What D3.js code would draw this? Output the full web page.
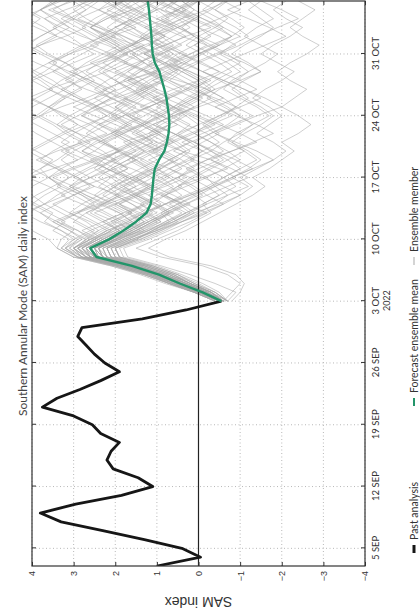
<!DOCTYPE html>
<html>
<head>
<meta charset="utf-8">
<script src="https://cdn.jsdelivr.net/npm/d3@7"></script>
<style>
  body { margin: 0; background: #fff; }
  svg { display: block; }
</style>
</head>
<body>
<svg width="420" height="616"></svg>
<script>
// past analysis, one value a day from 3 SEP 2022
const pastStart = '2022-09-03'
const pastValues = [1.0, -0.05, 0.4, 1.3, 2.3, 3.3, 3.8, 2.95, 1.85, 1.1, 1.45, 2.05, 2.2, 2.1, 1.9,
  2.35, 2.55, 3.0, 3.75, 3.4, 2.85, 2.35, 1.9, 2.25, 2.5, 2.7, 2.9, 2.8, 1.35, 0.3, -0.55]

// forecast, one value a day from 3 OCT 2022
const forecastStart = '2022-10-03'
const meanValues = [-0.55, -0.1, 0.45, 0.95, 1.6, 2.45, 2.6, 2.15, 1.8, 1.5, 1.25, 1.15, 1.12, 1.1,
  1.08, 1.05, 0.95, 0.82, 0.76, 0.72, 0.7, 0.71, 0.74, 0.77, 0.82, 0.88, 0.94, 1.05, 1.1, 1.12,
  1.13, 1.15, 1.17, 1.19, 1.22]

const members = [
  [-0.5, -0.1, 0.5, 1.0, 1.7, 2.6, 2.9, 2.5, 2.2, 1.6, 1.9, 2.4, 2.0, 1.5, 1.1, 1.6, 2.2, 2.8, 2.4, 1.9, 1.3, 0.8, 1.2, 1.8, 2.3, 1.7, 1.0, 0.4, 0.9, 1.5, 2.1, 2.6, 2.2, 1.6, 1.9],
  [-0.6, -0.3, 0.2, 0.7, 1.3, 2.1, 2.2, 1.6, 1.0, 0.4, -0.2, 0.3, 0.9, 0.5, -0.1, -0.7, -0.3, 0.4, 1.0, 1.5, 1.1, 0.6, 0.0, -0.6, -0.2, 0.5, 1.2, 1.8, 1.4, 0.8, 0.3, -0.3, 0.2, 0.9, 1.3],
  [-0.5, 0.0, 0.7, 1.3, 2.0, 2.9, 3.2, 2.8, 3.1, 3.5, 3.0, 2.4, 2.8, 3.3, 3.6, 3.1, 2.5, 1.9, 2.3, 2.9, 3.4, 3.8, 3.3, 2.7, 2.2, 2.6, 3.1, 2.5, 1.8, 1.3, 1.8, 2.4, 3.0, 3.5, 3.1],
  [-0.6, -0.2, 0.3, 0.8, 1.4, 2.2, 2.3, 1.8, 1.4, 0.9, 1.3, 0.8, 0.2, -0.4, -0.9, -0.5, 0.1, 0.6, 0.2, -0.3, -0.8, -1.3, -0.9, -0.4, 0.2, 0.7, 1.1, 0.6, 0.0, -0.5, -1.0, -0.6, -0.1, 0.4, 0.0],
  [-0.5, 0.1, 0.6, 1.1, 1.8, 2.7, 3.0, 2.6, 2.0, 1.5, 1.0, 1.4, 1.9, 2.5, 3.0, 2.6, 2.0, 1.5, 1.8, 1.2, 0.7, 1.1, 1.6, 2.1, 2.7, 3.2, 2.8, 2.3, 1.7, 2.2, 2.8, 3.3, 3.7, 3.2, 2.6],
  [-0.7, -0.3, 0.2, 0.6, 1.2, 2.0, 2.1, 1.5, 1.1, 0.6, 0.1, -0.5, -1.0, -0.6, -0.1, 0.3, -0.2, -0.8, -1.4, -1.0, -0.5, 0.0, 0.5, 0.1, -0.4, -1.0, -1.5, -1.1, -0.6, -0.2, 0.4, 0.9, 0.4, -0.2, -0.7],
  [-0.5, -0.1, 0.4, 0.9, 1.6, 2.4, 2.6, 2.3, 1.9, 2.3, 2.7, 2.2, 1.6, 1.1, 1.5, 1.0, 0.5, 0.9, 1.4, 1.9, 2.4, 1.8, 1.2, 0.7, 1.2, 1.7, 1.1, 0.5, 1.0, 1.6, 1.1, 0.5, 0.0, 0.5, 1.0],
  [-0.4, 0.1, 0.7, 1.2, 1.9, 2.8, 3.1, 2.9, 3.3, 3.8, 4.2, 3.7, 3.2, 3.6, 4.1, 3.5, 2.9, 3.3, 2.8, 2.2, 2.6, 3.1, 3.6, 4.1, 3.6, 3.0, 3.4, 3.9, 4.3, 3.8, 3.2, 2.7, 3.1, 3.6, 3.0],
  [-0.6, -0.2, 0.4, 0.9, 1.5, 2.3, 2.4, 1.9, 1.5, 1.0, 1.4, 1.9, 1.4, 0.8, 0.3, 0.7, 1.2, 0.7, 0.2, 0.6, 1.1, 1.6, 1.2, 0.7, 0.2, -0.3, 0.2, 0.8, 1.3, 0.8, 0.3, 0.7, 1.3, 1.8, 1.4],
  [-0.5, -0.1, 0.5, 1.0, 1.6, 2.5, 2.7, 2.2, 1.7, 1.2, 0.7, 0.2, 0.6, 1.1, 1.6, 2.1, 1.7, 1.2, 0.6, 0.1, -0.4, 0.1, 0.6, 1.1, 0.6, 0.0, -0.5, -0.1, 0.4, 0.9, 1.5, 2.0, 1.5, 1.0, 0.5],
  [-0.6, -0.1, 0.4, 1.0, 1.7, 2.5, 2.8, 2.4, 2.8, 2.3, 1.8, 2.2, 2.7, 3.1, 2.6, 2.0, 1.5, 1.9, 2.4, 2.0, 1.4, 0.9, 1.3, 1.8, 1.3, 0.8, 1.2, 1.7, 2.2, 1.7, 1.2, 1.6, 2.1, 1.6, 1.1],
  [-0.5, 0.0, 0.5, 1.0, 1.6, 2.4, 2.5, 2.0, 1.3, 0.7, 0.3, -0.2, -0.7, -1.2, -0.8, -1.3, -1.8, -1.4, -0.9, -0.4, -0.9, -1.4, -2.0, -1.6, -1.1, -0.6, -0.1, -0.6, -1.1, -1.6, -2.1, -1.7, -1.2, -0.7, -1.2],
  [-0.5, -0.1, 0.5, 1.1, 1.8, 2.7, 2.9, 2.4, 1.9, 2.3, 1.8, 1.3, 0.8, 1.2, 1.7, 2.2, 2.7, 3.2, 2.7, 2.1, 1.6, 2.0, 2.5, 2.0, 1.4, 0.9, 1.3, 1.8, 2.3, 2.8, 2.3, 1.7, 1.2, 1.6, 2.1],
  [-0.6, -0.2, 0.3, 0.8, 1.4, 2.2, 2.4, 1.9, 1.4, 1.8, 1.3, 0.8, 0.3, -0.2, 0.2, 0.7, 0.2, -0.3, 0.1, 0.6, 1.1, 0.6, 0.1, 0.5, 1.0, 1.5, 2.0, 1.5, 0.9, 0.4, 0.8, 1.3, 0.8, 0.3, 0.7],
  [-0.5, 0.0, 0.6, 1.1, 1.7, 2.6, 2.8, 2.5, 2.9, 3.4, 2.9, 2.3, 1.8, 1.3, 1.7, 2.2, 2.6, 2.1, 1.6, 1.0, 1.4, 1.9, 2.4, 2.9, 3.3, 2.8, 2.2, 1.7, 2.1, 2.6, 2.1, 1.5, 1.9, 2.4, 2.9],
  [-0.6, -0.2, 0.3, 0.8, 1.5, 2.3, 2.4, 2.0, 1.5, 1.1, 0.6, 1.0, 1.5, 1.0, 0.5, 0.0, -0.5, -0.1, 0.4, -0.1, -0.6, -0.2, 0.3, 0.8, 0.3, -0.2, 0.2, 0.7, 0.2, -0.3, -0.8, -0.4, 0.1, 0.6, 0.2],
  [-0.5, 0.0, 0.6, 1.2, 1.9, 2.8, 3.0, 2.7, 2.3, 1.9, 2.3, 2.8, 3.3, 2.8, 2.2, 1.7, 2.1, 1.6, 1.1, 1.5, 2.0, 2.5, 3.0, 2.5, 1.9, 1.4, 0.9, 1.3, 1.8, 1.3, 0.8, 1.2, 1.7, 2.2, 1.8],
  [-0.6, -0.3, 0.2, 0.7, 1.3, 2.1, 2.2, 1.7, 1.2, 0.8, 0.3, 0.7, 0.2, -0.3, -0.8, -1.3, -0.9, -0.4, 0.1, 0.5, 0.0, -0.5, -1.0, -1.5, -1.1, -0.6, -0.1, 0.4, 0.0, -0.5, 0.0, 0.5, 1.0, 0.5, 0.0],
  [-0.5, -0.1, 0.5, 1.0, 1.7, 2.6, 2.7, 2.3, 1.8, 1.3, 1.7, 1.2, 1.6, 2.1, 1.6, 1.1, 1.5, 2.0, 1.5, 1.0, 0.5, 0.9, 1.4, 0.9, 0.4, 0.8, 1.3, 0.8, 0.3, 0.7, 1.2, 0.7, 0.2, 0.6, 1.1],
  [-0.4, 0.1, 0.7, 1.3, 2.0, 2.9, 3.3, 3.0, 2.6, 2.1, 1.6, 2.0, 2.5, 3.0, 3.5, 3.0, 2.4, 1.9, 1.4, 1.8, 2.3, 2.8, 2.3, 1.7, 2.1, 2.6, 3.1, 3.6, 3.1, 2.5, 2.0, 2.4, 2.9, 2.4, 1.8],
  [-0.6, -0.2, 0.3, 0.9, 1.5, 2.3, 2.5, 2.1, 1.6, 1.2, 0.8, 0.4, 0.8, 0.3, -0.2, 0.2, 0.7, 1.2, 0.7, 0.2, -0.3, -0.8, -0.4, 0.1, 0.6, 1.1, 0.6, 0.1, -0.4, -0.9, -0.5, 0.0, -0.5, -1.0, -0.6],
  [-0.5, -0.1, 0.4, 0.9, 1.6, 2.5, 2.6, 2.1, 1.6, 2.0, 2.5, 2.0, 1.5, 1.9, 1.4, 0.9, 1.3, 1.8, 2.3, 1.8, 1.3, 1.7, 1.2, 0.7, 1.1, 1.6, 2.1, 2.6, 2.1, 1.6, 1.1, 0.6, 1.0, 1.5, 2.0],
  [-0.7, -0.3, 0.1, 0.6, 1.2, 1.9, 2.0, 1.4, 0.9, 0.4, -0.1, -0.6, -0.2, -0.7, -1.2, -0.8, -0.3, -0.8, -1.3, -1.8, -1.4, -0.9, -0.4, -0.9, -1.4, -1.0, -0.5, 0.0, -0.5, -1.0, -1.4, -1.9, -2.4, -2.0, -1.5],
  [-0.5, 0.0, 0.6, 1.1, 1.8, 2.7, 3.0, 2.6, 2.2, 2.6, 3.1, 3.5, 3.0, 2.5, 2.9, 3.4, 3.9, 3.4, 2.8, 3.2, 2.7, 2.2, 2.6, 3.1, 3.6, 4.0, 3.5, 3.0, 2.5, 2.9, 3.4, 3.9, 4.3, 3.8, 3.3],
  [-0.5, 0.0, 0.6, 1.2, 1.9, 2.8, 3.2, 3.0, 3.3, 3.7, 3.5, 3.9, 4.3, 4.0, 3.6, 3.8, 3.4, 3.1, 3.5, 3.9, 4.2, 3.8, 3.5, 3.2, 3.6, 3.3, 2.9, 3.2, 3.7, 4.1, 3.8, 3.4, 3.0, 3.3, 3.6],
  [-0.6, -0.2, 0.3, 0.9, 1.5, 2.3, 2.4, 2.0, 1.7, 1.9, 1.4, 1.1, 1.5, 1.8, 1.3, 0.9, 0.6, 1.0, 1.4, 1.1, 0.7, 0.4, 0.8, 1.3, 1.7, 1.4, 1.0, 1.3, 1.6, 1.2, 0.8, 1.1, 1.5, 1.9, 1.6],
  [-0.6, -0.8, -1.0, -0.7, -0.1, 0.9, 1.5, 1.0, 0.5, 0.1, -0.3, -0.1, -0.5, -0.9, -0.6, -1.0, -1.4, -1.1, -0.7, -0.9, -1.3, -1.7, -1.4, -1.0, -0.6, -0.8, -1.2, -1.6, -1.9, -1.5, -1.1, -1.4, -1.8, -1.5, -1.2],
  [-0.5, -0.1, 0.5, 1.0, 1.7, 2.6, 2.8, 2.4, 2.1, 2.5, 2.9, 2.6, 2.2, 1.8, 2.1, 2.5, 2.3, 1.9, 1.6, 2.0, 2.4, 2.8, 2.5, 2.1, 1.7, 2.0, 2.3, 1.9, 1.5, 1.8, 2.2, 2.6, 2.3, 1.9, 2.2],
  [-0.5, -0.2, 0.4, 0.8, 1.5, 2.4, 2.5, 1.9, 1.4, 1.0, 0.7, 1.1, 0.8, 0.4, 0.7, 1.2, 1.6, 1.3, 0.9, 0.5, 0.2, 0.6, 1.0, 0.7, 0.3, 0.0, 0.4, 0.9, 1.3, 1.0, 0.6, 0.2, 0.5, 0.9, 0.6],
  [-0.4, 0.1, 0.8, 1.4, 2.1, 3.0, 3.4, 3.6, 4.0, 4.4, 4.1, 3.7, 4.0, 4.5, 4.2, 3.8, 3.5, 3.9, 4.3, 4.6, 4.2, 3.9, 3.6, 4.0, 4.4, 4.1, 3.7, 3.4, 3.8, 4.2, 4.5, 4.1, 3.8, 4.2, 4.4],
  [-0.6, -0.3, 0.2, 0.7, 1.3, 2.1, 2.2, 1.8, 1.2, 0.6, 0.2, 0.5, 0.1, -0.3, -0.6, -0.2, 0.2, -0.1, -0.5, -0.2, 0.3, 0.7, 0.4, 0.0, -0.4, -0.1, 0.3, 0.6, 0.2, -0.2, 0.1, 0.5, 0.9, 0.5, 0.2],
  [-0.5, 0.0, 0.5, 1.1, 1.8, 2.7, 2.9, 2.6, 2.2, 1.7, 1.3, 1.6, 2.0, 2.4, 2.1, 1.7, 2.0, 2.5, 2.9, 2.6, 2.2, 1.8, 1.5, 1.9, 2.3, 2.7, 3.0, 2.7, 2.3, 1.9, 2.2, 2.6, 2.2, 1.8, 2.1],
  [-0.7, -0.4, 0.1, 0.5, 1.1, 1.9, 2.0, 1.5, 1.1, 0.7, 0.9, 0.5, 0.0, -0.4, -0.2, -0.6, -1.0, -0.7, -0.3, 0.1, -0.2, -0.6, -0.9, -0.6, -0.2, 0.2, 0.6, 0.3, -0.1, -0.5, -0.8, -0.5, -0.1, 0.3, 0.0],
  [-0.5, -0.1, 0.5, 1.0, 1.6, 2.5, 2.7, 2.3, 2.6, 3.0, 2.7, 2.3, 1.9, 2.2, 2.6, 3.0, 3.3, 3.0, 2.6, 2.9, 3.3, 2.9, 2.5, 2.1, 2.4, 2.8, 3.2, 3.5, 3.1, 2.7, 2.3, 2.6, 3.0, 2.7, 2.4],
  [-0.6, -0.2, 0.4, 0.9, 1.5, 2.3, 2.5, 2.0, 1.6, 1.2, 1.5, 1.9, 1.5, 1.1, 0.7, 1.0, 1.4, 1.0, 0.6, 0.9, 1.3, 1.7, 2.0, 1.6, 1.2, 0.8, 0.5, 0.8, 1.2, 1.6, 1.3, 0.9, 1.2, 1.5, 1.1],
  [-0.7, -0.9, -0.4, 0.2, 0.9, 1.7, 1.8, 1.2, 0.7, 0.2, -0.2, -0.6, -1.0, -1.3, -1.0, -1.4, -1.8, -2.1, -1.8, -1.4, -1.7, -2.0, -1.7, -1.3, -1.6, -2.0, -2.3, -1.9, -1.5, -1.8, -2.2, -2.5, -2.1, -1.8, -2.1],
  [-0.5, 0.0, 0.6, 1.1, 1.8, 2.6, 2.8, 2.5, 2.1, 1.8, 2.2, 2.6, 3.0, 3.4, 3.1, 2.7, 2.3, 1.9, 2.2, 1.8, 1.4, 1.7, 2.1, 2.5, 2.2, 1.8, 1.4, 1.1, 1.5, 1.9, 2.3, 2.0, 1.6, 1.9, 2.3],
  [-0.6, -0.2, 0.3, 0.8, 1.4, 2.2, 2.3, 1.8, 1.3, 1.6, 1.2, 0.8, 0.4, 0.7, 1.1, 0.7, 0.3, -0.1, 0.2, 0.6, 1.0, 0.7, 0.3, -0.1, 0.3, 0.7, 0.4, 0.0, 0.4, 0.8, 1.1, 0.8, 0.4, 0.1, 0.4],
  [-0.5, -0.1, 0.5, 1.0, 1.7, 2.6, 2.9, 2.7, 3.1, 3.5, 3.8, 3.4, 3.0, 2.6, 2.9, 3.3, 3.7, 4.1, 3.7, 3.3, 2.9, 3.2, 3.6, 3.3, 2.9, 2.5, 2.8, 3.2, 3.6, 3.9, 3.5, 3.1, 3.4, 3.8, 3.5],
  [-0.6, -0.3, 0.2, 0.6, 1.2, 2.0, 2.1, 1.6, 1.0, 0.5, 0.8, 0.3, -0.2, 0.1, 0.5, 0.2, -0.2, -0.6, -0.3, 0.1, 0.5, 0.9, 0.6, 0.2, -0.2, -0.6, -1.0, -0.7, -0.3, 0.1, -0.2, -0.6, -0.3, 0.1, 0.4],
  [-0.5, 0.0, 0.6, 1.2, 1.9, 2.8, 3.0, 2.7, 2.4, 2.0, 1.6, 1.9, 2.3, 2.0, 1.6, 1.2, 1.5, 1.9, 2.3, 2.7, 2.4, 2.0, 1.6, 1.3, 1.6, 2.0, 2.4, 2.1, 1.7, 2.0, 2.4, 2.8, 2.5, 2.1, 1.8],
  [-0.6, -0.2, 0.3, 0.8, 1.5, 2.4, 2.6, 2.1, 1.7, 1.3, 0.9, 0.5, 0.9, 1.3, 0.9, 0.5, 0.1, 0.4, 0.8, 1.2, 0.9, 0.5, 0.1, -0.3, 0.0, 0.4, 0.8, 1.2, 0.9, 0.5, 0.1, 0.4, 0.8, 0.5, 0.1],
  [-0.8, -1.0, -1.1, -0.9, -0.3, 0.7, 1.2, 0.8, 0.3, -0.1, -0.5, -0.9, -1.3, -1.6, -1.3, -1.7, -2.0, -2.3, -2.0, -2.4, -2.7, -2.4, -2.0, -2.3, -2.6, -2.2, -1.9, -2.2, -2.6, -2.9, -2.5, -2.2, -2.5, -2.8, -2.4],
  [-0.5, -0.1, 0.5, 1.0, 1.7, 2.5, 2.7, 2.3, 1.9, 2.2, 2.6, 2.3, 1.9, 1.5, 1.8, 2.2, 1.9, 1.5, 1.1, 1.4, 1.8, 2.2, 1.9, 1.5, 1.2, 1.5, 1.9, 2.3, 2.0, 1.6, 1.3, 1.6, 2.0, 2.4, 2.1],
  [-0.6, -0.3, 0.3, 0.7, 1.3, 2.2, 2.3, 1.7, 1.3, 0.9, 1.2, 1.6, 2.0, 1.7, 1.3, 0.9, 0.5, 0.2, 0.5, 0.9, 1.3, 1.0, 0.6, 0.9, 1.3, 1.7, 1.4, 1.0, 0.6, 0.9, 1.3, 1.0, 0.6, 0.3, 0.7],
  [-0.4, 0.1, 0.7, 1.3, 2.0, 2.9, 3.2, 2.9, 2.5, 2.9, 3.3, 3.7, 3.4, 3.0, 2.6, 2.2, 2.5, 2.9, 3.3, 3.0, 2.6, 2.2, 2.5, 2.9, 3.3, 3.7, 4.0, 3.6, 3.2, 2.8, 3.1, 3.5, 3.1, 2.7, 3.0],
  [-0.6, -0.2, 0.4, 0.9, 1.5, 2.3, 2.4, 1.9, 1.5, 1.1, 0.7, 0.3, -0.1, 0.2, 0.6, 1.0, 0.7, 0.3, -0.1, -0.5, -0.2, 0.2, 0.6, 0.3, -0.1, -0.4, -0.8, -0.5, -0.1, 0.3, 0.0, -0.4, -0.7, -0.4, 0.0],
  [-0.5, -0.1, 0.5, 1.1, 1.7, 2.6, 2.8, 2.4, 2.0, 1.6, 1.9, 2.3, 2.7, 3.1, 2.8, 2.4, 2.0, 2.3, 2.7, 3.1, 3.4, 3.1, 2.7, 2.3, 2.0, 2.3, 2.7, 2.4, 2.0, 1.6, 1.9, 2.3, 2.7, 3.0, 2.7],
  [-0.7, -0.4, 0.0, 0.5, 1.1, 1.9, 2.0, 1.4, 0.9, 0.5, 0.1, 0.4, 0.8, 0.5, 0.1, -0.3, -0.7, -1.1, -0.8, -0.4, -0.1, -0.5, -0.9, -1.2, -0.9, -0.5, -0.1, 0.3, 0.0, -0.4, -0.8, -1.1, -0.8, -0.4, -0.7],
  [-0.5, 0.0, 0.6, 1.1, 1.8, 2.7, 2.9, 2.5, 2.1, 1.7, 1.3, 0.9, 1.2, 1.6, 2.0, 2.4, 2.1, 1.7, 1.3, 0.9, 1.2, 1.6, 2.0, 1.7, 1.3, 0.9, 0.6, 0.9, 1.3, 1.7, 2.1, 1.8, 1.4, 1.0, 1.3],
  [-0.4, 0.1, 0.7, 1.2, 2.0, 2.9, 3.3, 3.1, 3.5, 3.2, 3.6, 4.0, 3.7, 3.3, 3.6, 4.0, 4.4, 4.0, 3.6, 3.2, 3.5, 3.9, 4.3, 3.9, 3.5, 3.8, 4.2, 4.6, 4.2, 3.8, 3.4, 3.7, 4.1, 3.8, 3.4],
  [-0.6, -0.2, 0.3, 0.8, 1.4, 2.3, 2.4, 2.0, 1.6, 1.2, 0.8, 1.1, 1.5, 1.2, 0.8, 0.4, 0.7, 1.1, 0.8, 0.4, 0.0, 0.3, 0.7, 1.1, 1.5, 1.2, 0.8, 0.4, 0.8, 1.2, 0.9, 0.5, 0.1, 0.5, 0.9],
  [-0.5, -0.1, 0.4, 1.0, 1.6, 2.5, 2.6, 2.2, 1.8, 2.1, 1.7, 1.3, 1.6, 2.0, 2.4, 2.1, 1.7, 1.3, 1.6, 2.0, 1.7, 1.3, 0.9, 1.2, 1.6, 2.0, 1.7, 1.3, 1.6, 2.0, 2.4, 2.0, 1.6, 1.3, 1.6],
  [-0.6, -0.3, 0.2, 0.6, 1.2, 2.0, 2.1, 1.6, 1.1, 0.7, 0.3, -0.1, -0.5, -0.2, -0.6, -1.0, -0.7, -0.3, -0.6, -1.0, -1.3, -1.0, -0.6, -0.2, -0.5, -0.9, -1.2, -0.9, -0.5, -0.8, -1.2, -0.9, -0.5, -0.1, -0.4],
  [-0.5, 0.0, 0.6, 1.2, 1.9, 2.8, 3.1, 2.8, 2.4, 2.7, 3.1, 2.8, 2.4, 2.0, 1.7, 2.0, 2.4, 2.8, 2.5, 2.1, 1.7, 2.0, 2.4, 2.8, 3.2, 2.9, 2.5, 2.1, 1.8, 2.1, 2.5, 2.9, 3.3, 2.9, 2.5],
  [-0.6, -0.2, 0.3, 0.9, 1.5, 2.3, 2.5, 2.0, 1.5, 1.1, 0.7, 1.0, 1.4, 1.8, 1.5, 1.1, 0.7, 0.3, 0.6, 1.0, 0.7, 0.3, 0.6, 1.0, 1.4, 1.1, 0.7, 0.3, 0.6, 1.0, 1.4, 1.8, 1.5, 1.1, 0.8],
  [-0.5, -0.1, 0.5, 1.0, 1.7, 2.6, 2.7, 2.3, 1.9, 1.5, 1.1, 1.4, 1.0, 0.6, 0.9, 1.3, 1.7, 1.4, 1.0, 1.3, 1.7, 2.1, 1.8, 1.4, 1.0, 1.3, 1.7, 1.4, 1.0, 0.6, 0.9, 1.3, 1.7, 1.4, 1.0],
  [-0.7, -0.4, 0.1, 0.5, 1.1, 1.9, 2.0, 1.5, 1.0, 0.6, 0.2, -0.2, 0.1, 0.5, 0.2, -0.2, -0.6, -0.3, 0.1, -0.3, -0.7, -1.0, -0.7, -0.3, 0.1, -0.2, -0.6, -1.0, -0.7, -0.3, 0.1, 0.4, 0.1, -0.3, -0.6],
  [-0.5, 0.0, 0.6, 1.1, 1.8, 2.7, 3.0, 2.6, 2.9, 3.3, 2.9, 2.5, 2.8, 3.2, 3.6, 3.3, 2.9, 2.5, 2.2, 2.5, 2.9, 3.3, 3.6, 3.2, 2.8, 3.1, 3.5, 3.2, 2.8, 2.4, 2.7, 3.1, 3.5, 3.8, 3.4],
  [-0.6, -0.2, 0.4, 0.9, 1.5, 2.4, 2.5, 2.1, 1.7, 1.3, 1.6, 2.0, 1.6, 1.2, 1.5, 1.9, 1.5, 1.1, 0.7, 1.0, 1.4, 1.1, 0.7, 1.0, 1.4, 1.8, 1.5, 1.1, 0.7, 1.0, 1.4, 1.1, 0.7, 1.0, 1.4],
  [-0.6, -0.3, 0.2, 0.7, 1.3, 2.1, 2.2, 1.7, 1.2, 0.8, 0.4, 0.8, 1.2, 0.9, 0.5, 0.1, 0.4, 0.8, 1.2, 1.6, 1.3, 0.9, 0.5, 0.1, -0.3, 0.0, 0.4, 0.8, 0.5, 0.1, -0.3, 0.0, 0.4, 0.8, 0.5],
  [-0.4, 0.1, 0.7, 1.3, 2.1, 3.0, 3.4, 3.3, 3.0, 3.4, 3.8, 4.2, 3.9, 3.5, 3.1, 3.4, 3.8, 3.5, 3.1, 3.5, 3.9, 4.3, 4.0, 3.6, 3.2, 3.5, 3.9, 4.3, 4.6, 4.2, 3.8, 3.4, 3.7, 4.1, 4.4],
  [-0.5, -0.1, 0.5, 1.0, 1.6, 2.5, 2.6, 2.2, 1.8, 1.4, 1.7, 2.1, 2.5, 2.2, 1.8, 1.4, 1.0, 1.3, 1.7, 2.1, 1.8, 1.4, 1.7, 2.1, 2.5, 2.2, 1.8, 1.4, 1.1, 1.4, 1.8, 2.2, 1.9, 1.5, 1.8],
  [-0.7, -0.5, -0.1, 0.4, 1.0, 1.8, 1.9, 1.3, 0.8, 0.4, 0.0, -0.4, -0.7, -0.4, -0.8, -1.2, -1.5, -1.2, -0.8, -1.1, -1.5, -1.8, -1.5, -1.1, -0.8, -1.1, -1.5, -1.2, -0.8, -1.1, -1.5, -1.8, -1.5, -1.2, -1.5]
]

const dateTicks = ['2022-09-05', '2022-09-12', '2022-09-19', '2022-09-26', '2022-10-03',
  '2022-10-10', '2022-10-17', '2022-10-24', '2022-10-31']
const dateLabels = ['5 SEP', '12 SEP', '19 SEP', '26 SEP', '3 OCT', '10 OCT', '17 OCT', '24 OCT', '31 OCT']
const valueTicks = [-4, -3, -2, -1, 0, 1, 2, 3, 4]

const parse = d3.timeParse('%Y-%m-%d')
const dayAt = (start, i) => d3.timeDay.offset(parse(start), i)

// the chart is drawn landscape (616 x 420) and turned a quarter left
const W = 616
const mLeft = 50, mRight = 615, mTop = 32, mBottom = 365

const svg = d3.select('svg')
const chart = svg.append('g')
  .attr('transform', `translate(0, ${W}) rotate(-90)`)

const x = d3.scaleTime()
  .domain([parse('2022-09-03'), parse('2022-11-06')])
  .range([mLeft, mRight])

const y = d3.scaleLinear()
  .domain([-4, 4])
  .range([mBottom, mTop])

chart.append('defs').append('clipPath')
  .attr('id', 'plot')
  .append('rect')
  .attr('x', mLeft).attr('y', mTop)
  .attr('width', mRight - mLeft).attr('height', mBottom - mTop)

// dotted grid
chart.append('g')
  .selectAll('line')
  .data(dateTicks)
  .join('line')
  .attr('x1', d => x(parse(d))).attr('x2', d => x(parse(d)))
  .attr('y1', mTop).attr('y2', mBottom)
  .attr('stroke', '#b8b8b8')
  .attr('stroke-dasharray', '1,2.5')

chart.append('g')
  .selectAll('line')
  .data(valueTicks.filter(v => v !== 0))
  .join('line')
  .attr('x1', mLeft).attr('x2', mRight)
  .attr('y1', d => y(d)).attr('y2', d => y(d))
  .attr('stroke', '#b8b8b8')
  .attr('stroke-dasharray', '1,2.5')

const line = start => d3.line()
  .x((d, i) => x(dayAt(start, i)))
  .y(d => y(d))

const plot = chart.append('g').attr('clip-path', 'url(#plot)')

plot.selectAll('.member')
  .data(members)
  .join('path')
  .attr('class', 'member')
  .attr('d', line(forecastStart))
  .attr('fill', 'none')
  .attr('stroke', '#a8a8a8')
  .attr('stroke-opacity', 0.55)
  .attr('stroke-width', 1)

// zero line
plot.append('line')
  .attr('x1', mLeft).attr('x2', mRight)
  .attr('y1', y(0)).attr('y2', y(0))
  .attr('stroke', '#222')
  .attr('stroke-width', 1.2)

plot.append('path')
  .datum(pastValues)
  .attr('d', line(pastStart))
  .attr('fill', 'none')
  .attr('stroke', '#161616')
  .attr('stroke-width', 2.8)
  .attr('stroke-linejoin', 'round')

plot.append('path')
  .datum(meanValues)
  .attr('d', line(forecastStart))
  .attr('fill', 'none')
  .attr('stroke', '#23956a')
  .attr('stroke-width', 2.4)
  .attr('stroke-linejoin', 'round')

// axes, ticks pointing inward
const xAxis = chart.append('g')
  .attr('transform', `translate(0, ${mBottom})`)
  .call(d3.axisBottom(x)
    .tickValues(dateTicks.map(parse))
    .tickSize(-4)
    .tickPadding(7)
    .tickFormat((d, i) => dateLabels[i]))
xAxis.selectAll('text')
  .attr('font-family', 'Lato, "Open Sans", sans-serif')
  .attr('font-size', 9.5)
  .attr('fill', '#333')
xAxis.selectAll('.tick')
  .filter((d, i) => i === 4)
  .append('text')
  .attr('y', 25)
  .attr('fill', '#333')
  .attr('font-family', 'Lato, "Open Sans", sans-serif')
  .attr('font-size', 9)
  .attr('text-anchor', 'middle')
  .text('2022')

const yAxis = chart.append('g')
  .attr('transform', `translate(${mLeft}, 0)`)
  .call(d3.axisLeft(y)
    .tickValues(valueTicks)
    .tickSize(-4)
    .tickPadding(5)
    .tickFormat(d => d < 0 ? '\u2212' + (-d) : d))
yAxis.selectAll('text')
  .attr('font-family', '"Liberation Sans", Arial, sans-serif')
  .attr('font-size', 9)
  .attr('fill', '#333')

// mirrored ticks on the other two sides
chart.append('g')
  .attr('transform', `translate(0, ${mTop})`)
  .call(d3.axisTop(x).tickValues(dateTicks.map(parse)).tickSize(-4).tickFormat(''))
chart.append('g')
  .attr('transform', `translate(${mRight}, 0)`)
  .call(d3.axisRight(y).tickValues(valueTicks).tickSize(-4).tickFormat(''))

chart.selectAll('.domain').remove()
chart.selectAll('.tick line').attr('stroke', '#333')

chart.append('rect')
  .attr('x', mLeft).attr('y', mTop)
  .attr('width', mRight - mLeft).attr('height', mBottom - mTop)
  .attr('fill', 'none')
  .attr('stroke', '#333')
  .attr('stroke-width', 1.2)

chart.append('text')
  .attr('x', 310)
  .attr('y', 27)
  .attr('text-anchor', 'middle')
  .attr('font-family', 'Lato, "Open Sans", sans-serif')
  .attr('font-size', 12)
  .attr('fill', '#444')
  .text('Southern Annular Mode (SAM) daily index')

chart.append('text')
  .attr('transform', `translate(19, ${y(0)}) rotate(-90)`)
  .attr('text-anchor', 'middle')
  .attr('font-family', '"Liberation Sans", Arial, sans-serif')
  .attr('font-size', 14)
  .attr('fill', '#333')
  .text('SAM index')

// legend along the bottom
const legend = [
  { label: 'Past analysis', color: '#161616', width: 3, at: 63 },
  { label: 'Forecast ensemble mean', color: '#23956a', width: 2, at: 210 },
  { label: 'Ensemble member', color: '#a9a9a9', width: 1, at: 351 }
]
const items = chart.append('g')
  .selectAll('g')
  .data(legend)
  .join('g')
  .attr('transform', d => `translate(${d.at}, 414)`)
items.append('line')
  .attr('x1', 0).attr('x2', 8)
  .attr('stroke', d => d.color)
  .attr('stroke-width', d => d.width)
items.append('text')
  .attr('x', 13)
  .attr('dy', '0.35em')
  .attr('font-family', 'Lato, "Open Sans", sans-serif')
  .attr('font-size', 10.5)
  .attr('fill', '#333')
  .text(d => d.label)
</script>
</body>
</html>
